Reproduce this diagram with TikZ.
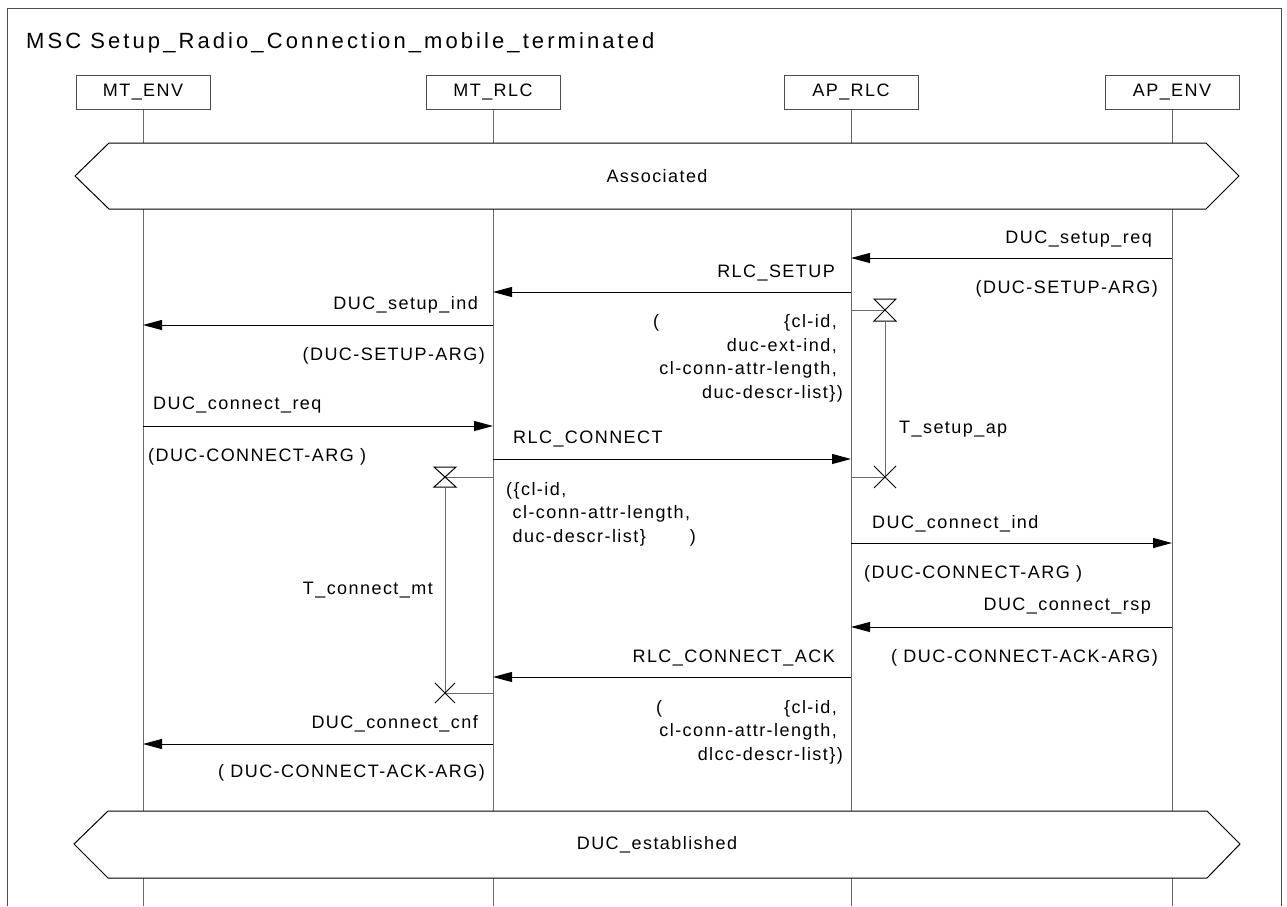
\documentclass[tikz,border=0pt]{standalone}
\usepackage{fontspec}
\setmainfont{Liberation Sans}
\newfontfamily\mscfont{Liberation Sans}[LetterSpace=8]
\newfontfamily\msctitlefont{Liberation Sans}[LetterSpace=14]
\usetikzlibrary{positioning, arrows.meta}

\definecolor{lifegray}{gray}{0.42}
\definecolor{framegray}{gray}{0.3}

\begin{document}
\begin{tikzpicture}[
        x=1pt, y=-1pt,
        >={Triangle[length=19pt, width=10pt]},
        node distance=350pt,
        on grid,
        every node/.style={inner sep=0pt, font=\mscfont\fontsize{18}{23.5}\selectfont},
        inst/.style={draw=framegray, line width=1pt, minimum width=134pt, minimum height=34pt},
        life/.style={draw=lifegray, line width=1pt},
        msg/.style={->, line width=1pt},
        cond/.style={draw, line width=1pt, fill=white},
        tmr/.style={draw=lifegray, line width=1pt},
        tmrsym/.style={draw, line width=1pt}
    ]
    \useasboundingbox (0,0) rectangle (1287,906);
    \draw[framegray, line width=1pt] (7,906) -- (7,8) -- (1281,8) -- (1281,906);
    \node[anchor=base west, font=\msctitlefont\fontsize{22}{26}\selectfont] (title) at (26,48)
        {MSC Setup\_Radio\_Connection\_mobile\_terminated};

    % instances and lifelines
    \node[inst] (mtenv) at (143,92) {MT\_ENV};
    \node[inst, right=of mtenv] (mtrlc) {MT\_RLC};
    \node[inst, right=358pt of mtrlc] (aprlc) {AP\_RLC};
    \node[inst, right=321pt of aprlc] (apenv) {AP\_ENV};
    \foreach \i in {mtenv, mtrlc, aprlc, apenv}
        \draw[life] (\i.south) -- (\i |- 0,906);

    % conditions
    \draw[cond] (75,176) -- (109,143) -- (1206,143) -- (1239,176) -- (1206,209) -- (109,209) -- cycle;
    \node (assoc) at (657,176) {Associated};
    \draw[cond] (74,844) -- (108,811) -- (1207,811) -- (1240,844) -- (1207,878) -- (108,878) -- cycle;
    \node (estab) at (657,845) {DUC\_established};

    % DUC_setup_req
    \coordinate (req-s) at (apenv |- 0,258);
    \coordinate (req-e) at (aprlc |- 0,258);
    \draw[msg] (req-s) -- (req-e);
    \node[anchor=base east] (req-l) at ([shift={(-20,-15)}]req-s) {DUC\_setup\_req};
    \node[anchor=base east] (req-p) at ([shift={(-14,35)}]req-s) {(DUC-SETUP-ARG)};

    % RLC_SETUP (base of a multi-line node = last line)
    \coordinate (setup-s) at (aprlc |- 0,292);
    \coordinate (setup-e) at (mtrlc |- 0,292);
    \draw[msg] (setup-s) -- (setup-e);
    \node[anchor=base east] (setup-l) at ([shift={(-16,-15)}]setup-s) {RLC\_SETUP};
    \node[anchor=base east, align=right] (setup-p) at ([shift={(-8,106)}]setup-s)
        {(\hspace{125pt}\{cl-id,\hphantom{)}\\ duc-ext-ind,\hphantom{)}\\
         cl-conn-attr-length,\hphantom{)}\\ duc-descr-list\})};

    % T_setup_ap
    \coordinate (tsa) at (aprlc |- 0,310);
    \coordinate (tsa-t) at ([xshift=34pt]tsa);
    \coordinate (tsa-x) at (tsa-t |- 0,477);
    \draw[tmr] (tsa) -- (tsa-t);
    \draw[tmrsym] ([shift={(-11,-11)}]tsa-t) -- ([shift={(11,-11)}]tsa-t)
        -- ([shift={(-11,11)}]tsa-t) -- ([shift={(11,11)}]tsa-t) -- cycle;
    \draw[tmr] ([yshift=-11pt]tsa-t) -- (tsa-x) -- (aprlc |- tsa-x);
    \draw[tmrsym] ([shift={(-11,-11)}]tsa-x) -- ([shift={(11,11)}]tsa-x)
        ([shift={(-11,11)}]tsa-x) -- ([shift={(11,-11)}]tsa-x);
    \node[anchor=base west] (tsa-l) at ([shift={(14,-44)}]tsa-x) {T\_setup\_ap};

    % DUC_setup_ind
    \coordinate (sind-s) at (mtrlc |- 0,325);
    \coordinate (sind-e) at (mtenv |- 0,325);
    \draw[msg] (sind-s) -- (sind-e);
    \node[anchor=base east] (sind-l) at ([shift={(-15,-16)}]sind-s) {DUC\_setup\_ind};
    \node[anchor=base east] (sind-p) at ([shift={(-8,35)}]sind-s) {(DUC-SETUP-ARG)};

    % DUC_connect_req
    \coordinate (creq-s) at (mtenv |- 0,426);
    \coordinate (creq-e) at (mtrlc |- 0,426);
    \draw[msg] (creq-s) -- (creq-e);
    \node[anchor=base west] (creq-l) at ([shift={(10,-17)}]creq-s) {DUC\_connect\_req};
    \node[anchor=base west] (creq-p) at ([shift={(5,35)}]creq-s) {(DUC-CONNECT-ARG )};

    % RLC_CONNECT
    \coordinate (conn-s) at (mtrlc |- 0,459);
    \coordinate (conn-e) at (aprlc |- 0,459);
    \draw[msg] (conn-s) -- (conn-e);
    \node[anchor=base west] (conn-l) at ([shift={(20,-16)}]conn-s) {RLC\_CONNECT};
    \node[anchor=base west, align=left] (conn-p) at ([shift={(13,83)}]conn-s)
        {(\{cl-id,\\ \ cl-conn-attr-length,\\ \ duc-descr-list\}\hspace{44pt})};

    % T_connect_mt
    \coordinate (tcm) at (mtrlc |- 0,477);
    \coordinate (tcm-t) at ([xshift=-48pt]tcm);
    \coordinate (tcm-x) at (tcm-t |- 0,693);
    \draw[tmr] (tcm) -- (tcm-t);
    \draw[tmrsym] ([shift={(-11,-10)}]tcm-t) -- ([shift={(11,-10)}]tcm-t)
        -- ([shift={(-11,10)}]tcm-t) -- ([shift={(11,10)}]tcm-t) -- cycle;
    \draw[tmr] ([yshift=-10pt]tcm-t) -- (tcm-x) -- (mtrlc |- tcm-x);
    \draw[tmrsym] ([shift={(-10,-10)}]tcm-x) -- ([shift={(10,10)}]tcm-x)
        ([shift={(-10,10)}]tcm-x) -- ([shift={(10,-10)}]tcm-x);
    \node[anchor=base east] (tcm-l) at ([shift={(-12,-99)}]tcm-x) {T\_connect\_mt};

    % DUC_connect_ind
    \coordinate (cind-s) at (aprlc |- 0,543);
    \coordinate (cind-e) at (apenv |- 0,543);
    \draw[msg] (cind-s) -- (cind-e);
    \node[anchor=base west] (cind-l) at ([shift={(21,-15)}]cind-s) {DUC\_connect\_ind};
    \node[anchor=base west] (cind-p) at ([shift={(13,35)}]cind-s) {(DUC-CONNECT-ARG )};

    % DUC_connect_rsp
    \coordinate (crsp-s) at (apenv |- 0,627);
    \coordinate (crsp-e) at (aprlc |- 0,627);
    \draw[msg] (crsp-s) -- (crsp-e);
    \node[anchor=base east] (crsp-l) at ([shift={(-21,-17)}]crsp-s) {DUC\_connect\_rsp};
    \node[anchor=base east] (crsp-p) at ([shift={(-14,35)}]crsp-s) {( DUC-CONNECT-ACK-ARG)};

    % RLC_CONNECT_ACK
    \coordinate (cack-s) at (aprlc |- 0,677);
    \coordinate (cack-e) at (mtrlc |- 0,677);
    \draw[msg] (cack-s) -- (cack-e);
    \node[anchor=base east] (cack-l) at ([shift={(-16,-15)}]cack-s) {RLC\_CONNECT\_ACK};
    \node[anchor=base east, align=right] (cack-p) at ([shift={(-8,83)}]cack-s)
        {(\hspace{122pt}\{cl-id,\hphantom{)}\\ cl-conn-attr-length,\hphantom{)}\\ dlcc-descr-list\})};

    % DUC_connect_cnf
    \coordinate (ccnf-s) at (mtrlc |- 0,744);
    \coordinate (ccnf-e) at (mtenv |- 0,744);
    \draw[msg] (ccnf-s) -- (ccnf-e);
    \node[anchor=base east] (ccnf-l) at ([shift={(-15,-16)}]ccnf-s) {DUC\_connect\_cnf};
    \node[anchor=base east] (ccnf-p) at ([shift={(-8,33)}]ccnf-s) {( DUC-CONNECT-ACK-ARG)};
\end{tikzpicture}
\end{document}
